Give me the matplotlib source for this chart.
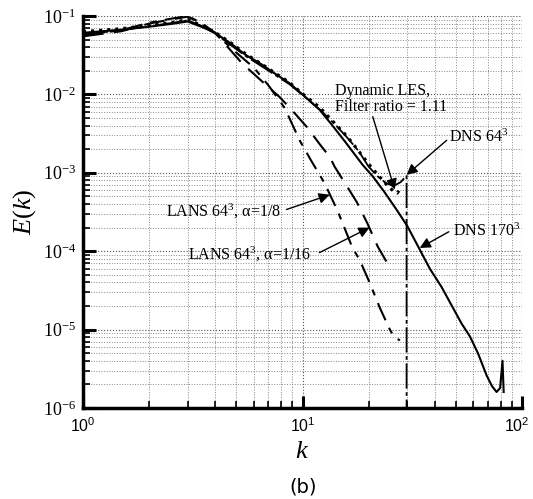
import matplotlib
matplotlib.use('Agg')
import matplotlib.pyplot as plt
import matplotlib.transforms as mtransforms
from matplotlib.ticker import LogLocator, FixedLocator, NullFormatter

plt.rcParams['mathtext.fontset'] = 'custom'
plt.rcParams['mathtext.rm'] = 'Liberation Serif'
plt.rcParams['mathtext.it'] = 'Liberation Serif:italic'
plt.rcParams['mathtext.sf'] = 'Liberation Sans'
SERIF = 'Liberation Serif'

# DNS 170^3 (solid)
k_dns170 = [1, 1.5, 2, 2.5, 3, 3.5, 4, 4.8, 5.5, 6.57, 7.07, 8.72, 10, 11.97,
            13.7, 15.8, 18.8, 20.9, 23.5, 26.8, 30, 32.4, 38, 43, 48.7, 53,
            57.9, 63, 69, 73, 76.6, 79.5, 81.5, 82.5]
e_dns170 = [0.061, 0.067, 0.073, 0.079, 0.085, 0.072, 0.061, 0.043, 0.032,
            0.0238, 0.0205, 0.0139, 0.0100, 0.00635, 0.0040, 0.0024, 1.26e-3,
            9.0e-4, 5.8e-4, 3.4e-4, 2.1e-4, 1.4e-4, 6.0e-5, 3.5e-5, 1.85e-5,
            1.2e-5, 8.2e-6, 5.0e-6, 2.6e-6, 1.9e-6, 1.6e-6, 1.8e-6, 4.0e-6,
            1.6e-6]

# DNS 64^3 (long dashes), drops to zero at the cutoff
k_dns64 = [1, 1.5, 2, 2.5, 3, 3.5, 4, 4.8, 5.5, 6.57, 8.72, 10, 12, 14, 16,
           18, 20, 22, 24, 26, 28, 29.8, 29.8]
e_dns64 = [0.058, 0.066, 0.074, 0.081, 0.088, 0.074, 0.060, 0.041, 0.031,
           0.0225, 0.0135, 0.0098, 0.0064, 0.0042, 0.0028, 0.0019, 1.2e-3,
           9.0e-4, 7.4e-4, 6.8e-4, 7.6e-4, 9.2e-4, 1e-9]

# Dynamic LES, filter ratio 1.11 (dotted)
k_les = [1, 1.5, 2, 2.5, 3, 3.5, 4, 4.8, 5.5, 6.57, 8.72, 10, 12, 14, 16, 18,
         20, 22, 24, 26, 27, 28]
e_les = [0.063, 0.069, 0.076, 0.082, 0.090, 0.075, 0.062, 0.044, 0.033, 0.024,
         0.0142, 0.0102, 0.0068, 0.0043, 0.0029, 0.0019, 1.3e-3, 9.5e-4,
         7.2e-4, 5.8e-4, 5.5e-4, 6.3e-4]

# LANS 64^3, alpha = 1/8 (dash-dot)
k_lans8 = [1, 1.5, 2, 2.5, 3, 3.5, 4, 5, 6, 7, 8.3, 9.7, 11, 12.6, 14.5, 16.9,
           18.2, 20.2, 22.5, 25, 26.3, 27.8]
e_lans8 = [0.057, 0.066, 0.082, 0.092, 0.100, 0.080, 0.060, 0.034, 0.022,
           0.013, 0.0067, 0.0026, 0.0014, 7.4e-4, 3.2e-4, 1.1e-4, 7.8e-5,
           4.0e-5, 1.9e-5, 1.0e-5, 7.9e-6, 7.3e-6]

# LANS 64^3, alpha = 1/16 (long dashes)
k_lans16 = [1, 1.5, 2, 2.5, 3, 3.5, 4, 5.3, 6.57, 7.85, 9, 10.5, 12, 13.3, 14,
            15.8, 17.7, 19.7, 22, 25]
e_lans16 = [0.055, 0.064, 0.080, 0.090, 0.098, 0.079, 0.061, 0.025, 0.0145,
            0.0093, 0.0062, 0.0038, 0.0023, 0.0016, 0.0012, 7.0e-4, 4.2e-4,
            2.3e-4, 1.15e-4, 6.2e-5]

x_ticks = [1, 10, 100]
x_ticklabels = [r'$\mathsf{10^{0}}$', r'$\mathsf{10^{1}}$', r'$\mathsf{10^{2}}$']
y_ticks = [1e-6, 1e-5, 1e-4, 1e-3, 1e-2, 1e-1]
y_ticklabels = [r'$\mathrm{10^{-6}}$', r'$\mathrm{10^{-5}}$', r'$\mathrm{10^{-4}}$',
                r'$\mathrm{10^{-3}}$', r'$\mathrm{10^{-2}}$', r'$\mathrm{10^{-1}}$']

fig = plt.figure(figsize=(5.33, 4.99), dpi=100)
ax = fig.add_axes([83 / 533, 1 - 408 / 499, 439 / 533, 392 / 499])

ax.plot(k_dns170, e_dns170, '-', color='black', lw=1.5)
ax.plot(k_dns64, e_dns64, color='black', lw=1.3, dashes=(14, 2, 2, 2))
ax.plot(k_les, e_les, ':', color='black', lw=2.2)
ax.plot(k_lans8, e_lans8, color='black', lw=1.5, dashes=(9, 4, 3, 4))
ax.plot(k_lans16, e_lans16, color='black', lw=1.5, dashes=(10, 5))

ax.set_xscale('log')
ax.set_yscale('log')
ax.set_xlim(1, 100)
ax.set_ylim(1e-6, 1e-1)

ax.xaxis.set_major_locator(FixedLocator(x_ticks))
ax.set_xticklabels(x_ticklabels, fontsize=11.5)
ax.yaxis.set_major_locator(FixedLocator(y_ticks))
ax.set_yticklabels(y_ticklabels, fontsize=13)
ax.xaxis.set_minor_locator(LogLocator(base=10, subs=range(2, 10)))
ax.yaxis.set_minor_locator(LogLocator(base=10, subs=range(2, 10)))
ax.xaxis.set_minor_formatter(NullFormatter())
ax.yaxis.set_minor_formatter(NullFormatter())

ax.tick_params(which='major', direction='in', length=9, width=2.2, color='black')
ax.tick_params(which='minor', direction='in', length=5, width=1.2, color='black')
ax.tick_params(axis='x', which='major', pad=6)
ax.tick_params(axis='y', which='major', pad=5)

# keep the last x label inside the figure
last = ax.get_xticklabels()[-1]
last.set_transform(last.get_transform() +
                   mtransforms.ScaledTranslation(-5 / 100, 0, fig.dpi_scale_trans))

for side in ['top', 'right']:
    ax.spines[side].set_visible(False)
for side in ['left', 'bottom']:
    ax.spines[side].set_linewidth(2.5)

ax.grid(True, which='major', linestyle=':', color='#555555', lw=0.8)
ax.grid(True, which='minor', linestyle=':', color='#888888', lw=0.7)

ax.set_xlabel('$k$', fontsize=19, labelpad=2)
ax.set_ylabel('$E(k)$', fontsize=19)
ax.yaxis.set_label_coords(-0.103, 0.5)

arrow = dict(arrowstyle='-|>', color='black', lw=1.0, mutation_scale=16,
             shrinkA=0, shrinkB=0)

ax.text(14.0, 8.8e-3, 'Dynamic LES,\nFilter ratio = 1.11', family=SERIF,
        fontsize=11.5, ha='left', va='center', linespacing=1.0)
ax.annotate('', xy=(26.3, 6.1e-4), xytext=(20.9, 5.2e-3), arrowprops=arrow)

ax.text(46.4, 2.8e-3, 'DNS 64$^3$', family=SERIF, fontsize=11.5,
        ha='left', va='center')
ax.annotate('', xy=(29.8, 9.4e-4), xytext=(45.4, 2.6e-3), arrowprops=arrow)

ax.text(48.4, 1.8e-4, 'DNS 170$^3$', family=SERIF, fontsize=11.5,
        ha='left', va='center')
ax.annotate('', xy=(34.2, 1.1e-4), xytext=(46.4, 1.77e-4), arrowprops=arrow)

ax.text(8.0, 3.2e-4, 'LANS 64$^3$, \u03b1=1/8', family=SERIF, fontsize=11.5,
        ha='right', va='center')
ax.annotate('', xy=(13.3, 5.25e-4), xytext=(8.45, 3.4e-4), arrowprops=arrow)

ax.text(11.0, 9.0e-5, 'LANS 64$^3$, \u03b1=1/16', family=SERIF, fontsize=11.5,
        ha='right', va='center')
ax.annotate('', xy=(20.2, 2.0e-4), xytext=(11.95, 9.6e-5), arrowprops=arrow)

fig.text(303 / 533, 1 - 487 / 499, '(b)', fontsize=14, ha='center',
         va='center', family='DejaVu Sans')

fig.savefig('out.png', dpi=100)
